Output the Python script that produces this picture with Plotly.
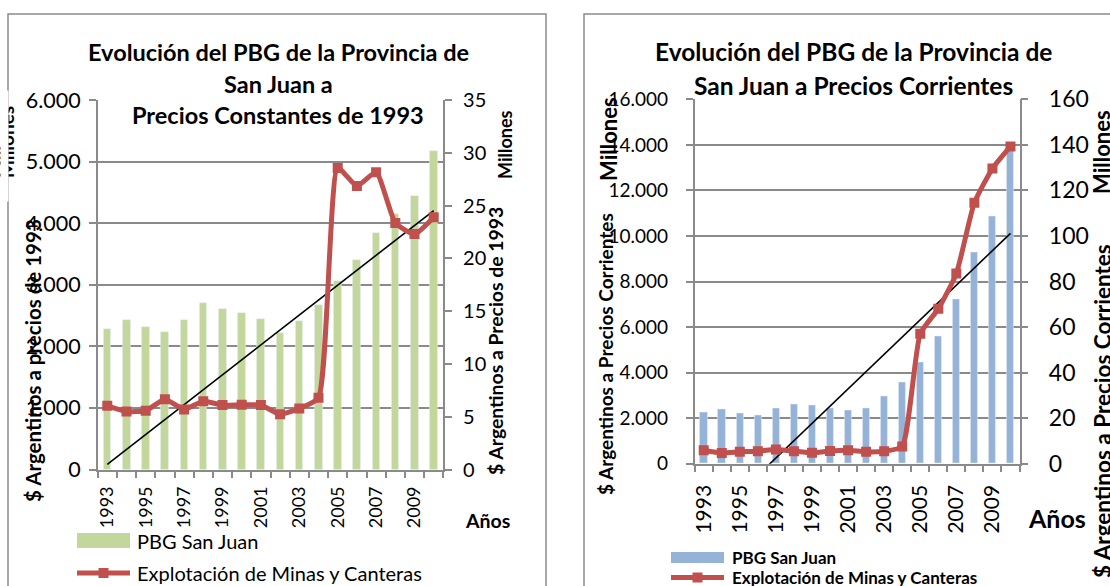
import numpy as np
import plotly.graph_objects as go

# ---------------- data ----------------
years = list(range(1993, 2011))
year_labels = [1993, 1995, 1997, 1999, 2001, 2003, 2005, 2007, 2009]

# Left chart: constant 1993 prices (millions)
pbg_const = [2285, 2420, 2312, 2236, 2431, 2707, 2610, 2545, 2436, 2220,
             2404, 2675, 3054, 3403, 3833, 4145, 4435, 5180]
minas_const = [6.03, 5.50, 5.56, 6.66, 5.69, 6.47, 6.10, 6.13, 6.10, 5.24,
               5.78, 6.79, 28.57, 26.85, 28.16, 23.36, 22.30, 23.90]

# Right chart: current prices (millions)
pbg_corr = [2265, 2382, 2235, 2147, 2412, 2618, 2544, 2412, 2324, 2441,
            2941, 3588, 4441, 5603, 7208, 9281, 10852, 13720]
minas_corr = [5.9, 4.7, 5.2, 5.5, 6.2, 5.5, 4.8, 5.6, 5.9, 5.2,
              5.5, 7.5, 57.1, 68.0, 83.5, 114.6, 129.6, 139.3]

# linear trendlines (Excel-style) of the mining series
def trend(vals):
    x = np.arange(len(vals))
    a, b = np.polyfit(x, vals, 1)
    return list(a * x + b)

trend_const = trend(minas_const)
trend_corr = trend(minas_corr)

# ---------------- styling ----------------
W, H = 1110, 586
FONT = "Lato"
GRID = "#8a8a8a"
GREEN = "#C3D69B"
BLUE = "#95B3D7"
RED = "#C0504D"

def X(px):
    return px / W

def Y(py):
    return 1 - py / H

fig = go.Figure()

# Left chart traces
fig.add_trace(go.Bar(x=years, y=pbg_const, width=0.4, marker_color=GREEN,
                     xaxis="x", yaxis="y", showlegend=False))
fig.add_trace(go.Scatter(x=years, y=trend_const, mode="lines",
                         line=dict(color="black", width=1.6),
                         xaxis="x", yaxis="y2", showlegend=False))
fig.add_trace(go.Scatter(x=years, y=minas_const, mode="lines+markers",
                         line=dict(color=RED, width=5, shape="spline", smoothing=0.5),
                         marker=dict(symbol="square", size=10, color=RED),
                         xaxis="x", yaxis="y2", showlegend=False))

# Right chart traces
fig.add_trace(go.Bar(x=years, y=pbg_corr, width=0.4, marker_color=BLUE,
                     xaxis="x2", yaxis="y3", showlegend=False))
fig.add_trace(go.Scatter(x=years, y=trend_corr, mode="lines",
                         line=dict(color="black", width=1.6),
                         xaxis="x2", yaxis="y4", showlegend=False))
fig.add_trace(go.Scatter(x=years, y=minas_corr, mode="lines+markers",
                         line=dict(color=RED, width=5, shape="spline", smoothing=0.5),
                         marker=dict(symbol="square", size=10, color=RED),
                         xaxis="x2", yaxis="y4", showlegend=False))

def xaxis_cfg(domain, anchor, fsize, standoff):
    return dict(domain=domain, anchor=anchor, range=[1992.5, 2010.5],
                tickmode="array", tickvals=year_labels, tickangle=-90,
                ticks="", showgrid=False, zeroline=False,
                showline=True, linecolor=GRID, linewidth=1.5,
                tickfont=dict(family=FONT, size=fsize, color="black"),
                ticklabelstandoff=standoff,
                minor=dict(ticks="outside", tick0=1992.5, dtick=1, ticklen=7,
                           tickcolor=GRID, tickwidth=1.5, showgrid=False))

def yaxis_cfg(domain, anchor, rng, dtick, fsize, side="left", grid=True,
              overlay=None, standoff=5, fmt=","):
    d = dict(domain=domain, anchor=anchor, range=rng, dtick=dtick, tick0=0,
             side=side, showgrid=grid, gridcolor=GRID, gridwidth=1.5,
             zeroline=False, showline=True, linecolor=GRID, linewidth=1.5,
             ticks="outside", ticklen=7, tickcolor=GRID, tickwidth=1.5,
             tickformat=fmt, ticklabelstandoff=standoff,
             tickfont=dict(family=FONT, size=fsize, color="black"))
    if overlay:
        d["overlaying"] = overlay
    return d

L_x = [X(97.7), X(443.3)]
L_y = [Y(469.5), Y(100)]
R_x = [X(694.7), X(1019.5)]
R_y = [Y(463.7), Y(99.3)]

fig.update_layout(
    width=W, height=H, margin=dict(l=0, r=0, t=0, b=0, autoexpand=False),
    paper_bgcolor="white", plot_bgcolor="white",
    separators=",.", bargap=0, showlegend=False,
    xaxis=xaxis_cfg(L_x, "y", 18, 8),
    yaxis=yaxis_cfg(L_y, "x", [0, 6000], 1000, 21.5, standoff=4),
    yaxis2=yaxis_cfg(L_y, "x", [0, 35], 5, 20, side="right", grid=False,
                     overlay="y", standoff=7),
    xaxis2=xaxis_cfg(R_x, "y3", 21, 11),
    yaxis3=yaxis_cfg(R_y, "x2", [0, 16000], 2000, 19, standoff=14),
    yaxis4=yaxis_cfg(R_y, "x2", [0, 160], 20, 23, side="right", grid=False,
                     overlay="y3", standoff=16),
)

shapes = []
# chart area borders
shapes.append(dict(type="rect", xref="paper", yref="paper",
                   x0=X(8), x1=X(546), y0=Y(600), y1=Y(14),
                   line=dict(color="#8c8c8c", width=1.5), layer="below"))
shapes.append(dict(type="rect", xref="paper", yref="paper",
                   x0=X(584), x1=X(1125), y0=Y(600), y1=Y(14),
                   line=dict(color="#8c8c8c", width=1.5), layer="below"))

# legend symbols (left chart)
shapes.append(dict(type="rect", xref="paper", yref="paper",
                   x0=X(77), x1=X(130), y0=Y(548), y1=Y(533),
                   fillcolor=GREEN, line=dict(width=0)))
shapes.append(dict(type="line", xref="paper", yref="paper",
                   x0=X(77), x1=X(130), y0=Y(573), y1=Y(573),
                   line=dict(color=RED, width=5)))
shapes.append(dict(type="rect", xref="paper", yref="paper",
                   x0=X(98.5), x1=X(108.5), y0=Y(578), y1=Y(568),
                   fillcolor=RED, line=dict(width=0)))
# legend symbols (right chart)
shapes.append(dict(type="rect", xref="paper", yref="paper",
                   x0=X(671), x1=X(724), y0=Y(563), y1=Y(552),
                   fillcolor=BLUE, line=dict(width=0)))
shapes.append(dict(type="line", xref="paper", yref="paper",
                   x0=X(671), x1=X(724), y0=Y(577.5), y1=Y(577.5),
                   line=dict(color=RED, width=5)))
shapes.append(dict(type="rect", xref="paper", yref="paper",
                   x0=X(692.5), x1=X(702.5), y0=Y(582.5), y1=Y(572.5),
                   fillcolor=RED, line=dict(width=0)))
fig.update_layout(shapes=shapes)

anns = []

def text(t, px, py, size, bold=False, angle=0, xanchor="center", yanchor="middle"):
    anns.append(dict(text=("<b>%s</b>" % t) if bold else t,
                     x=X(px), y=Y(py), xref="paper", yref="paper",
                     xanchor=xanchor, yanchor=yanchor, showarrow=False,
                     textangle=angle,
                     font=dict(family=FONT, size=size, color="black")))

# titles
text("Evolución del PBG de la Provincia de", 278, 52, 23.5, bold=True)
text("San Juan a", 278, 84, 23.5, bold=True)
text("Precios Constantes de 1993", 278, 115, 23.5, bold=True)
text("Evolución del PBG de la Provincia de", 853, 52, 24.5, bold=True)
text("San Juan a Precios Corrientes", 853, 85, 24.5, bold=True)

# left chart axis titles
text("Millones", 6, 142, 19, bold=True, angle=-90)
text("$ Argentinos a precios de 1993", 33, 361, 20.5, bold=True, angle=-90)
text("Millones", 505, 145, 18, bold=True, angle=-90)
text("$ Argentinos a Precios de 1993", 495, 341, 19.4, bold=True, angle=-90)
text("Años", 487, 520, 19.5, bold=True)

# right chart axis titles
text("Millones", 608, 139, 22, bold=True, angle=-90)
text("$ Argentinos a Precios Corrientes", 605, 354, 19, bold=True, angle=-90)
text("Millones", 1102, 152, 22, bold=True, angle=-90)
text("$ Argentinos a Precios Corrientes", 1102, 411, 22.5, bold=True, angle=-90)
text("Años", 1057, 518, 25, bold=True)

# legend texts
text("PBG San Juan", 135, 541, 20, xanchor="left")
text("Explotación de Minas y Canteras", 135, 573, 20, xanchor="left")
text("PBG San Juan", 730, 557, 17, bold=True, xanchor="left")
text("Explotación de Minas y Canteras", 730, 577, 17, bold=True, xanchor="left")

# mask to clip the left "Millones" at the chart border
anns.append(dict(text=" ", x=0, y=Y(90), xref="paper", yref="paper",
                 xanchor="left", yanchor="top", showarrow=False,
                 width=7, height=110, bgcolor="white", borderpad=0,
                 font=dict(size=2)))

fig.update_layout(annotations=anns)

fig.write_html("out.html", config={"displayModeBar": False},
               post_script="document.body.style.margin='0px';")
